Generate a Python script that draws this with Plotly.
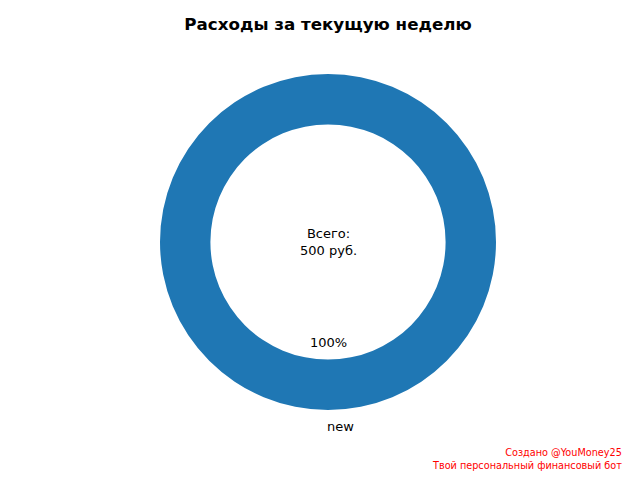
import plotly.graph_objects as go

categories = ["new"]
values = [500]
title_text = "Расходы за текущую неделю"
total_label = "Всего:<br>{} руб.".format(sum(values))
watermark = "Создано @YouMoney25<br>Твой персональный финансовый бот"

W, H = 640, 480
cx, cy, R = 328, 242, 168

fig = go.Figure(go.Pie(
    labels=categories,
    values=values,
    hole=0.70,
    sort=False,
    direction="counterclockwise",
    rotation=90,
    marker=dict(colors=["#1f77b4"], line=dict(width=0)),
    textinfo="none",
    hoverinfo="label+value+percent",
    showlegend=False,
    domain=dict(x=[(cx - R) / W, (cx + R) / W], y=[(H - cy - R) / H, (H - cy + R) / H]),
))

font = "DejaVu Sans"
ann = []
total = sum(values)
for lab, v in zip(categories, values):
    pct = 100.0 * v / total
    ann.append(dict(x=cx / W, y=(H - (cy + 0.6 * R)) / H, xref="paper", yref="paper",
                    text="{:.0f}%".format(pct), showarrow=False,
                    font=dict(family=font, size=13, color="black"),
                    xanchor="center", yanchor="middle"))
    ann.append(dict(x=(cx - 3) / W, y=(H - (cy + 1.1 * R)) / H, xref="paper", yref="paper",
                    text=lab, showarrow=False,
                    font=dict(family=font, size=13, color="black"),
                    xanchor="left", yanchor="middle"))
ann.append(dict(x=cx / W, y=(H - cy) / H, xref="paper", yref="paper",
                text=total_label, showarrow=False, align="center",
                font=dict(family=font, size=13, color="black"),
                xanchor="center", yanchor="middle"))
ann.append(dict(x=624 / W, y=(H - 458.5) / H, xref="paper", yref="paper",
                text=watermark, showarrow=False, align="right",
                font=dict(family=font, size=9.7, color="red"),
                xanchor="right", yanchor="middle"))

fig.update_layout(
    width=W, height=H,
    margin=dict(l=0, r=0, t=0, b=0),
    paper_bgcolor="white", plot_bgcolor="white",
    title=dict(text="<b>" + title_text + "</b>", x=cx / W, xanchor="center", xref="paper",
               y=(H - 24) / H, yanchor="middle", yref="paper",
               font=dict(family=font, size=16.7, color="black")),
    annotations=ann,
)

fig.write_html("out.html", config={"displayModeBar": False},
               post_script="document.body.style.margin='0';")
